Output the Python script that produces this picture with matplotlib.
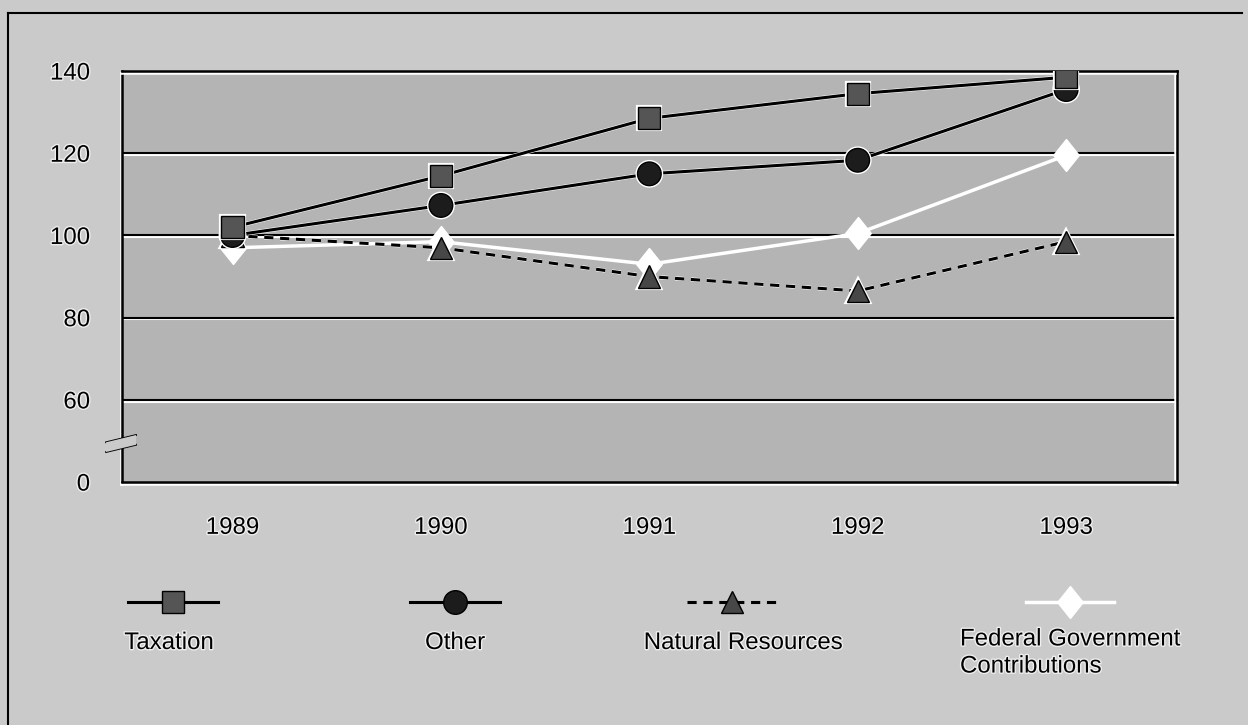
import numpy as np
import matplotlib.pyplot as plt
import matplotlib.patheffects as pe
from matplotlib.lines import Line2D
from matplotlib.path import Path

plt.rcParams['font.family'] = ['Liberation Sans', 'DejaVu Sans']

# Data
years = ['1989', '1990', '1991', '1992', '1993']
taxation = [102, 114.5, 128.5, 134.5, 138.5]
other = [100, 107.3, 115, 118.3, 135.5]
natural_resources = [100, 97, 90, 86.5, 98.5]
federal_contrib = [97, 98.5, 93, 100.5, 119.5]
ytick_vals = [0, 60, 80, 100, 120, 140]


# broken y axis: 0..60 squeezed into one band, then 20 per band
def fwd(v):
    v = np.asarray(v, dtype=float)
    return np.where(v >= 60, (v - 40) / 20.0, v / 60.0)


def inv(p):
    p = np.asarray(p, dtype=float)
    return np.where(p >= 1, p * 20.0 + 40, p * 60.0)


outer_bg = '#cacaca'
plot_bg = '#b4b4b4'
FS = 17.3
emboss = [pe.SimpleLineShadow(offset=(-1, -1.2), shadow_color='white', alpha=1), pe.Normal()]
halo = [pe.withStroke(linewidth=3, foreground='white')]
txt_halo = [pe.withStroke(linewidth=2, foreground='#eeeeee')]

fig = plt.figure(figsize=(12.48, 7.25), dpi=100, facecolor=outer_bg)
ax = fig.add_axes([0.0978, 0.335, 0.845, 0.567])
ax.set_facecolor(plot_bg)
ax.set_yscale('function', functions=(fwd, inv))
ax.set_ylim(0, 140)
x = np.arange(len(years))
ax.set_xlim(-0.53, len(years) - 1 + 0.53)

for v in ytick_vals[1:-1]:
    ax.axhline(v, color='black', lw=1.5, zorder=1, path_effects=emboss)
for s in ax.spines.values():
    s.set_linewidth(1.8)
    s.set_path_effects(emboss)

ax.set_yticks(ytick_vals)
ax.set_yticklabels([str(v) for v in ytick_vals])
ax.set_xticks(x)
ax.set_xticklabels(years)
ax.tick_params(axis='both', length=0, labelsize=FS)
ax.tick_params(axis='y', pad=23)
ax.tick_params(axis='x', pad=25)
for lab in ax.get_xticklabels() + ax.get_yticklabels():
    lab.set_path_effects(txt_halo)

diamond = Path([(0, 1), (0.8, 0), (0, -1), (-0.8, 0), (0, 1)],
               [Path.MOVETO, Path.LINETO, Path.LINETO, Path.LINETO, Path.CLOSEPOLY])

ax.plot(x, federal_contrib, color='white', lw=2.5, zorder=3,
        marker=diamond, ms=23, mfc='white', mec='white')
ax.plot(x, natural_resources, color='black', lw=2.2, ls=(0, (3, 2.2)), zorder=4,
        marker='^', ms=16, mfc='#474747', mec='black', mew=1, path_effects=halo)
ax.plot(x, other, color='black', lw=2.2, zorder=5,
        marker='o', ms=17, mfc='#1c1c1c', mec='black', path_effects=halo)
ax.plot(x, taxation, color='black', lw=2.2, zorder=6,
        marker='s', ms=16, mfc='#555555', mec='black', mew=1, path_effects=halo)

# axis break mark
for dy in (0, 0.0135):
    fig.add_artist(Line2D([0.085, 0.109], [0.39 - dy, 0.40 - dy], color='black',
                          lw=1.3, transform=fig.transFigure))
fig.add_artist(plt.Polygon([[0.085, 0.39], [0.109, 0.40], [0.109, 0.40 - 0.0135], [0.085, 0.39 - 0.0135]],
                           closed=True, facecolor=outer_bg, edgecolor='none', transform=fig.transFigure,
                           zorder=5))

# outer frame (top + left only)
fig.add_artist(Line2D([0.0065, 0.995], [0.982, 0.982], color='black', lw=1.5, transform=fig.transFigure))
fig.add_artist(Line2D([0.0065, 0.0065], [0.0, 0.982], color='black', lw=1.5, transform=fig.transFigure))

# legend drawn below the chart
leg_y = 1 - 602 / 725
entries = [
    (128, 218, dict(color='black', lw=2.2, marker='s', ms=16, mfc='#555555', mec='black')),
    (410, 500, dict(color='black', lw=2.2, marker='o', ms=17, mfc='#1c1c1c', mec='black')),
    (687, 776, dict(color='black', lw=2.2, ls=(0, (3, 2.2)), marker='^', ms=16, mfc='#474747', mec='black')),
    (1026, 1114, dict(color='white', lw=2.5, marker=diamond, ms=23, mfc='white', mec='white')),
]
for x0, x1, kw in entries:
    xs = [x0 / 1248, (x0 + x1) / 2 / 1248, x1 / 1248]
    ln = Line2D(xs, [leg_y] * 3, markevery=[1], transform=fig.transFigure, **kw)
    fig.add_artist(ln)

fig.text(169 / 1248, 1 - 643 / 725, 'Taxation', ha='center', va='center', fontsize=FS, path_effects=txt_halo)
fig.text(455 / 1248, 1 - 643 / 725, 'Other', ha='center', va='center', fontsize=FS, path_effects=txt_halo)
fig.text(743 / 1248, 1 - 643 / 725, 'Natural Resources', ha='center', va='center', fontsize=FS,
         path_effects=txt_halo)
fig.text(960 / 1248, 1 - 653 / 725, 'Federal Government\nContributions', ha='left', va='center',
         fontsize=FS, linespacing=1.3, path_effects=txt_halo)

fig.savefig('out.png', dpi=100, facecolor=outer_bg)
